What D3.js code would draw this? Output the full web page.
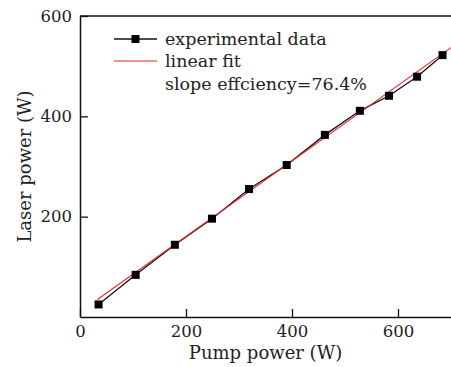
<!DOCTYPE html>
<html>
<head>
<meta charset="utf-8">
<script src="https://cdn.jsdelivr.net/npm/d3@7"></script>
<style>
  body { margin: 0; background: #fff; }
  svg { display: block; font-family: "DejaVu Serif", serif; }
</style>
</head>
<body>
<svg id="chart" width="451" height="367"></svg>
<script>
const pumpPower = [35, 105, 179, 249, 319, 390, 462, 528, 583, 636, 684];
const laserPower = [25, 84, 144, 196, 255, 303, 363, 411, 441, 479, 522];
// linear fit end points
const fitX = [33, 700];
const fitY = [35, 537];
const xTicks = [0, 200, 400, 600];
const yTicks = [200, 400, 600];
const legendLabels = ['experimental data', 'linear fit', 'slope effciency=76.4%'];

const svg = d3.select('#chart');
const margin = { top: 16, right: 0, bottom: 50, left: 80 };
const W = 451, H = 367;

const x = d3.scaleLinear().domain([0, 700]).range([margin.left, W - margin.right]);
const y = d3.scaleLinear().domain([0, 600]).range([H - margin.bottom, margin.top]);

// clip for plot area
svg.append('clipPath').attr('id', 'clip')
  .append('rect')
  .attr('x', x(0)).attr('y', y(600))
  .attr('width', x(700) - x(0)).attr('height', y(0) - y(600));

const plot = svg.append('g').attr('clip-path', 'url(#clip)');

const line = d3.line().x(d => x(d[0])).y(d => y(d[1]));

// data line
plot.append('path')
  .datum(d3.zip(pumpPower, laserPower))
  .attr('d', line)
  .attr('fill', 'none')
  .attr('stroke', '#111')
  .attr('stroke-width', 1.3);

// fit line
plot.append('path')
  .datum(d3.zip(fitX, fitY))
  .attr('d', line)
  .attr('fill', 'none')
  .attr('stroke', '#e8262b')
  .attr('stroke-width', 1.1);

// markers
plot.selectAll('.pt')
  .data(d3.zip(pumpPower, laserPower))
  .enter().append('rect')
  .attr('class', 'pt')
  .attr('x', d => x(d[0]) - 4)
  .attr('y', d => y(d[1]) - 4)
  .attr('width', 8)
  .attr('height', 8)
  .attr('fill', '#000');

// axes (ticks pointing inward)
const xAxis = svg.append('g')
  .attr('transform', `translate(0,${y(0)})`)
  .call(d3.axisBottom(x).tickValues(xTicks).tickSizeInner(-8).tickSizeOuter(0).tickPadding(6));
const yAxis = svg.append('g')
  .attr('transform', `translate(${x(0)},0)`)
  .call(d3.axisLeft(y).tickValues(yTicks).tickSizeInner(-8).tickSizeOuter(0).tickPadding(8));

[xAxis, yAxis].forEach(a => {
  a.select('.domain').attr('stroke', '#111').attr('stroke-width', 1.5);
  a.selectAll('.tick line').attr('stroke', '#111').attr('stroke-width', 1.3);
  a.selectAll('.tick text')
    .attr('font-family', '"DejaVu Serif", serif')
    .attr('font-size', 16.5)
    .attr('fill', '#222');
});
xAxis.selectAll('.tick text').attr('dy', '0.85em');

// top border
svg.append('line')
  .attr('x1', x(0)).attr('x2', W)
  .attr('y1', y(600)).attr('y2', y(600))
  .attr('stroke', '#111').attr('stroke-width', 1.5);

// axis titles
svg.append('text')
  .attr('x', (x(0) + W) / 2)
  .attr('y', 359)
  .attr('text-anchor', 'middle')
  .attr('font-size', 18)
  .attr('fill', '#222')
  .text('Pump power (W)');

svg.append('text')
  .attr('transform', `translate(31,${(y(0) + y(600)) / 2}) rotate(-90)`)
  .attr('text-anchor', 'middle')
  .attr('font-size', 18)
  .attr('fill', '#222')
  .text('Laser power (W)');

// legend
const lg = svg.append('g');
const lx1 = 114, lx2 = 157, tx = 165;
const rows = [39, 61, 84];
lg.append('line').attr('x1', lx1).attr('x2', lx2).attr('y1', rows[0]).attr('y2', rows[0])
  .attr('stroke', '#111').attr('stroke-width', 1.3);
lg.append('rect').attr('x', (lx1 + lx2) / 2 - 4).attr('y', rows[0] - 4)
  .attr('width', 8).attr('height', 8).attr('fill', '#000');
lg.append('line').attr('x1', lx1).attr('x2', lx2).attr('y1', rows[1]).attr('y2', rows[1])
  .attr('stroke', '#e8262b').attr('stroke-width', 1.1);
lg.selectAll('.lt')
  .data(legendLabels)
  .enter().append('text')
  .attr('x', tx)
  .attr('y', (d, i) => rows[i])
  .attr('dy', '0.32em')
  .attr('font-size', 17.5)
  .attr('fill', '#222')
  .text(d => d);
</script>
</body>
</html>
